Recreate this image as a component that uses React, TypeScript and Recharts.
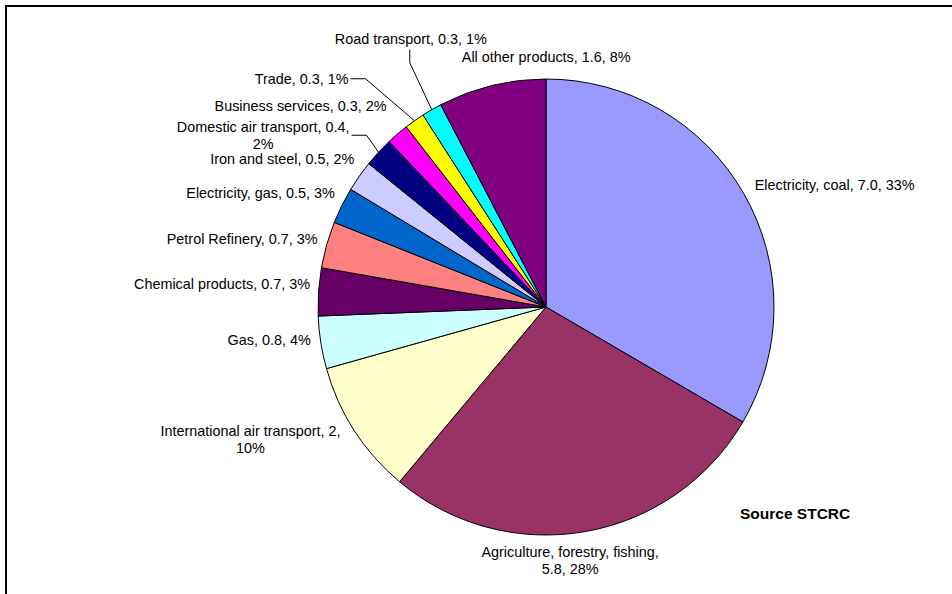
import { PieChart, Pie, Cell } from "recharts"

const sectors = [
  "Electricity, coal",
  "Agriculture, forestry, fishing",
  "International air transport",
  "Gas",
  "Chemical products",
  "Petrol Refinery",
  "Electricity, gas",
  "Iron and steel",
  "Domestic air transport",
  "Business services",
  "Trade",
  "Road transport",
  "All other products",
]

// emissions (labels show them rounded)
const emissions = [7.0, 5.8, 2.0, 0.78, 0.71, 0.69, 0.54, 0.46, 0.44, 0.33, 0.3, 0.3, 1.6]
const valueText = ["7.0", "5.8", "2", "0.8", "0.7", "0.7", "0.5", "0.5", "0.4", "0.3", "0.3", "0.3", "1.6"]

const colors = [
  "#9999FF", "#993366", "#FFFFCC", "#CCFFFF", "#660066", "#FF8080", "#0066CC",
  "#CCCCFF", "#000080", "#FF00FF", "#FFFF00", "#00FFFF", "#800080",
]

// label placement relative to the slice's outer edge: dx, dy, anchor, line break, leader
// break: 0 none, 1 before percent, 2 before value
const labelLayout: [number, number, string, number, string][] = [
  [11, -8, "start", 0, ""],
  [-15, 20, "middle", 2, ""],
  [-14, 0, "end", 1, ""],
  [-10, -3, "end", 0, ""],
  [-8.5, -8, "end", 0, ""],
  [-9, -5.5, "end", 0, ""],
  [-7, -13, "end", 0, ""],
  [-5, -17, "end", 0, ""],
  [-29, -25, "end", 1, "h"],
  [-11, -28, "end", 0, ""],
  [-66, -42, "end", 0, "h"],
  [-21, -71, "middle", 0, "v"],
  [-30, -29, "start", 0, ""],
]

const FONT = "'Liberation Sans', Arial, sans-serif"
const FONT_SIZE = 14.4
const LINE_H = 17

const total = emissions.reduce((a, b) => a + b, 0)
const data = sectors.map((name, i) => ({ name, value: emissions[i] }))

let ctx: CanvasRenderingContext2D | null = null
function textWidth(s: string) {
  if (!ctx) ctx = document.createElement("canvas").getContext("2d")
  if (!ctx) return s.length * 7
  ctx.font = `${FONT_SIZE}px ${FONT}`
  return ctx.measureText(s).width
}

const RAD = Math.PI / 180

function renderLabel(props: any) {
  const { cx, cy, midAngle, outerRadius, index } = props
  const ex = cx + outerRadius * Math.cos(-midAngle * RAD)
  const ey = cy + outerRadius * Math.sin(-midAngle * RAD)
  const [dx, dy, anchor, brk, leader] = labelLayout[index]
  const x = ex + dx
  const y = ey + dy
  const pct = Math.round((emissions[index] / total) * 100) + "%"
  const name = sectors[index]
  let lines: string[]
  if (brk === 1) lines = [`${name}, ${valueText[index]},`, pct]
  else if (brk === 2) lines = [`${name},`, `${valueText[index]}, ${pct}`]
  else lines = [`${name}, ${valueText[index]}, ${pct}`]

  // multi-line blocks are centred on their first line
  let tx = x
  let ta = anchor
  if (lines.length > 1) {
    const w = textWidth(lines[0])
    if (anchor === "end") tx = x - w / 2
    else if (anchor === "start") tx = x + w / 2
    ta = "middle"
  }

  let path = ""
  if (leader === "h") {
    const ly = lines.length > 1 ? y + 8 : y
    path = `M${x + 2},${ly} L${x + 17},${ly} L${ex},${ey}`
  } else if (leader === "v") {
    path = `M${x - 1},${y + 11} L${x - 1},${y + 24} L${ex},${ey}`
  }

  return (
    <g key={`lbl-${index}`}>
      {path && <path d={path} fill="none" stroke="#000" strokeWidth={1} />}
      {lines.map((ln, k) => (
        <text
          key={k}
          x={tx}
          y={y + k * LINE_H}
          textAnchor={ta as any}
          dominantBaseline="central"
          fontFamily={FONT}
          fontSize={FONT_SIZE}
          fill="#000"
        >
          {ln}
        </text>
      ))}
    </g>
  )
}

export default function App() {
  return (
    <div
      style={{
        position: "absolute",
        left: 0,
        top: 0,
        width: 952,
        height: 594,
        overflow: "hidden",
        background: "#fff",
      }}
    >
      <div
        style={{
          position: "absolute",
          left: 5,
          top: 5,
          width: 1000,
          height: 1000,
          border: "2px solid #000",
        }}
      />
      <div style={{ position: "absolute", left: 0, top: 0 }}>
        <PieChart width={952} height={594} margin={{ top: 0, right: 0, bottom: 0, left: 0 }}>
          <Pie
            data={data}
            dataKey="value"
            nameKey="name"
            cx={546}
            cy={307}
            outerRadius={228}
            startAngle={90}
            endAngle={-270}
            stroke="#000"
            strokeWidth={1}
            label={renderLabel}
            labelLine={false}
            isAnimationActive={false}
          >
            {data.map((d, i) => (
              <Cell key={d.name} fill={colors[i]} />
            ))}
          </Pie>
        </PieChart>
      </div>
      <svg width={952} height={594} style={{ position: "absolute", left: 0, top: 0, pointerEvents: "none" }}>
        <text
          x={740}
          y={513}
          dominantBaseline="central"
          fontFamily={FONT}
          fontSize={15.5}
          fontWeight="bold"
          fill="#000"
        >
          Source STCRC
        </text>
      </svg>
    </div>
  )
}
